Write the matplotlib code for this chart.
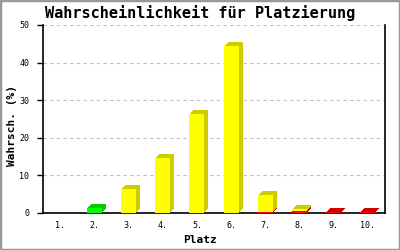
import matplotlib
matplotlib.use("Agg")
import matplotlib.pyplot as plt
import matplotlib.transforms as mtransforms
from matplotlib.patches import Rectangle

# ── data ─────────────────────────────────────────────────────────────────────
places = ["1.", "2.", "3.", "4.", "5.", "6.", "7.", "8.", "9.", "10."]
red    = [0.0, 0.0, 0.0, 0.0, 0.0, 0.0, 0.25, 0.5, 0.35, 0.25]
yellow = [0.0, 0.0, 6.4, 14.6, 26.4, 44.4, 4.6, 0.6, 0.0, 0.0]
green  = [0.0, 1.4, 0.0, 0.0, 0.0, 0.0, 0.0, 0.0, 0.0, 0.0]

title  = "Wahrscheinlichkeit für Platzierung"
xlabel = "Platz"
ylabel = "Wahrsch. (%)"
yticks = [0, 10, 20, 30, 40, 50]

# (front colour, side/top colour)
series = [
    (red,    "#ff0000", "#cc0000"),
    (yellow, "#ffff00", "#cccc00"),
    (green,  "#00ff00", "#00cc00"),
]

fig = plt.figure(figsize=(4, 2.5), dpi=100)
ax = fig.add_axes([0.1075, 0.148, 0.855, 0.752])

x = list(range(1, len(places) + 1))
width = 0.44
depth_px = 4

# ── 3D-ish stacked bars: shifted darker copies behind the front faces ───────
bottom = [0.0] * len(x)
for vals, front, side in series:
    for k in range(1, depth_px + 1):
        shift = mtransforms.ScaledTranslation(k / 100, k / 100, fig.dpi_scale_trans)
        ax.bar(x, vals, width=width, bottom=bottom, color=side, linewidth=0,
               transform=ax.transData + shift, zorder=2)
    ax.bar(x, vals, width=width, bottom=bottom, color=front, linewidth=0, zorder=3)
    bottom = [b + v for b, v in zip(bottom, vals)]

# ── axes styling ─────────────────────────────────────────────────────────────
ax.set_xlim(0.5, len(places) + 0.5)
ax.set_ylim(0, 50)
ax.set_xticks(x)
ax.set_xticklabels(places, family="DejaVu Sans Mono", fontsize=6)
ax.set_yticks(yticks)
ax.set_yticklabels([str(t) for t in yticks], family="DejaVu Sans Mono", fontsize=6)
ax.tick_params(axis="x", length=0, pad=6)
ax.tick_params(axis="y", length=4, width=1, pad=6, direction="out")

for t in yticks[1:]:
    ax.axhline(t, color="#c0c0c0", lw=0.8, ls=(0, (3, 3)), zorder=1)

ax.spines["top"].set_visible(False)
for s in ["left", "bottom", "right"]:
    ax.spines[s].set_linewidth(1.2)
    ax.spines[s].set_color("black")

fig.text(0.5, 0.948, title, ha="center", va="center",
         family="DejaVu Sans Mono", fontsize=11, fontweight="bold")
fig.text(0.5, 0.04, xlabel, ha="center", va="center",
         family="DejaVu Sans Mono", fontsize=8, fontweight="bold")
fig.text(0.03, 0.5, ylabel, ha="center", va="center", rotation=90,
         family="DejaVu Sans Mono", fontsize=8, fontweight="bold")

# gray outer frame
fig.patches.append(Rectangle((0, 0), 1, 1, transform=fig.transFigure,
                             fill=False, edgecolor="#999999", linewidth=2.5))

fig.savefig("out.png", dpi=100)
